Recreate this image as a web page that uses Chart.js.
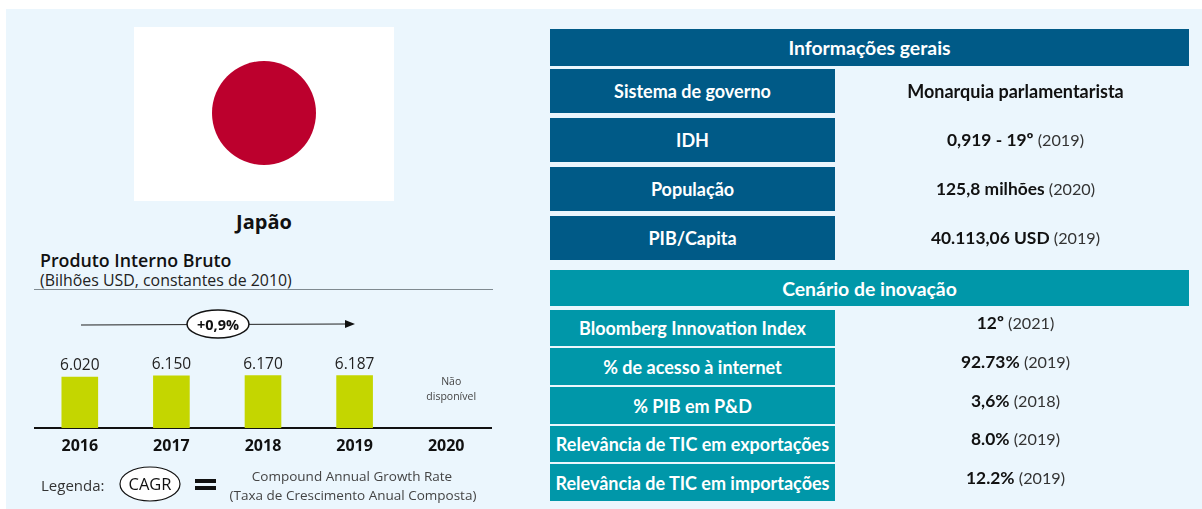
<!DOCTYPE html>
<html lang="pt">
<head>
<meta charset="utf-8">
<title>Japão</title>
<script src="https://cdn.jsdelivr.net/npm/chart.js@4/dist/chart.umd.min.js"></script>
<style>
html, body { margin: 0; padding: 0; background: #fff; }
body { width: 1202px; height: 509px; position: relative; overflow: hidden; font-family: "Open Sans", sans-serif; }
#panel { position: absolute; left: 6px; top: 9px; width: 1196px; height: 500px; background: #ebf6fd; }
#flag { position: absolute; left: 134px; top: 27px; width: 260px; height: 174px; background: #fff; }
#disc { position: absolute; left: 212px; top: 61px; width: 104px; height: 104px; border-radius: 50%; background: #bc002d; }
.t { position: absolute; white-space: nowrap; color: #111; line-height: 20px; }
.c { transform: translateX(-50%); }
#chartWrap { position: absolute; left: 34px; top: 300px; width: 458px; height: 160px; }
#deco { position: absolute; left: 0; top: 0; }
.cell { position: absolute; display: flex; align-items: center; justify-content: center; color: #fff; font-family: Lato, sans-serif; font-weight: 700; font-size: 18px; box-sizing: border-box; white-space: nowrap; }
.val { position: absolute; text-align: center; font-family: Lato, sans-serif; font-weight: 700; font-size: 17.4px; color: #111; white-space: nowrap; left: 835px; width: 361px; }
.val span { font-weight: 400; font-size: 16.2px; color: #333; }
</style>
</head>
<body>
<div id="panel"></div>
<div id="flag"></div>
<div id="disc"></div>
<div class="t c" style="left:264px;top:212px;font-size:20px;font-weight:700;">Japão</div>
<div class="t" style="left:40px;top:250px;font-size:17.8px;font-weight:600;">Produto Interno Bruto</div>
<div class="t" style="left:40px;top:270px;font-size:15.9px;color:#222;">(Bilhões USD, constantes de 2010)</div>
<div id="chartWrap"><canvas id="gdp" width="458" height="160"></canvas></div>
<svg id="deco" width="1202" height="509">
  <line x1="34" y1="289.5" x2="493" y2="289.5" stroke="#7f8a90" stroke-width="1"/>
  <line x1="81" y1="325" x2="346" y2="324" stroke="#222" stroke-width="1"/>
  <polygon points="345,320 355,324 345,328" fill="#111"/>
  <ellipse cx="218" cy="324" rx="31" ry="14" fill="#fff" stroke="#111" stroke-width="1.5"/>
  <text x="218" y="329.5" text-anchor="middle" font-family="Open Sans" font-size="14.5" font-weight="700" fill="#111">+0,9%</text>
  <ellipse cx="150" cy="484" rx="30" ry="17" fill="#fff" stroke="#111" stroke-width="1.2"/>
  <text x="150" y="490" text-anchor="middle" font-family="Open Sans" font-size="16.5" fill="#111">CAGR</text>
  <rect x="195" y="479" width="21" height="4" fill="#111"/>
  <rect x="195" y="486" width="21" height="4" fill="#111"/>
</svg>
<div class="t" style="left:41px;top:475px;font-size:15px;color:#333;">Legenda:</div>
<div class="t c" style="left:352px;top:466px;font-size:13.5px;color:#444;">Compound Annual Growth Rate</div>
<div class="t c" style="left:353px;top:485px;font-size:13.5px;color:#444;">(Taxa de Crescimento Anual Composta)</div>
<div id="tables"></div>

<script>
const years = ["2016", "2017", "2018", "2019", "2020"];
const gdpValues = [6020, 6150, 6170, 6187, null];
const gdpLabels = ["6.020", "6.150", "6.170", "6.187", ""];
const missingLabel = ["Não", "disponível"];

const generalTitle = "Informações gerais";
const generalNames = ["Sistema de governo", "IDH", "População", "PIB/Capita"];
const generalValues = ["Monarquia parlamentarista", "0,919 - 19º", "125,8 milhões", "40.113,06 USD"];
const generalYears = ["", "(2019)", "(2020)", "(2019)"];

const innovationTitle = "Cenário de inovação";
const innovationNames = ["Bloomberg Innovation Index", "% de acesso à internet", "% PIB em P&D", "Relevância de TIC em exportações", "Relevância de TIC em importações"];
const innovationValues = ["12º", "92.73%", "3,6%", "8.0%", "12.2%"];
const innovationYears = ["(2021)", "(2019)", "(2018)", "(2019)", "(2019)"];

const navy = "#005a87";
const teal = "#0097a9";

// row tops and bottoms
const generalRows = [[69, 113], [118, 162], [167, 211], [216, 260]];
const innovationRows = [[310, 346], [348, 385], [387, 424], [426, 462], [464, 501]];

const tables = document.getElementById("tables");

function addCell(x, y, w, h, text, color) {
    const el = document.createElement("div");
    el.className = "cell";
    el.style.cssText = `left:${x}px;top:${y}px;width:${w}px;height:${h}px;background:${color};`;
    el.textContent = text;
    tables.appendChild(el);
    return el;
}

function addBlock(title, top, bottom, names, values, yrs, rows, color, valueOffset) {
    addCell(550, top, 639, bottom - top, title, color).style.fontSize = "19.4px";
    names.forEach((name, i) => {
        const [y0, y1] = rows[i];
        addCell(550, y0, 285, y1 - y0, name, color);
        const v = document.createElement("div");
        v.className = "val";
        v.style.top = (y0 + (y1 - y0) / 2 - 11 + valueOffset) + "px";
        v.textContent = values[i] + " ";
        if (yrs[i]) {
            const s = document.createElement("span");
            s.textContent = yrs[i];
            v.appendChild(s);
        } else {
            v.style.fontSize = "18px";
        }
        tables.appendChild(v);
    });
}

addBlock(generalTitle, 29, 66, generalNames, generalValues, generalYears, generalRows, navy, 0);
addBlock(innovationTitle, 270, 306, innovationNames, innovationValues, innovationYears, innovationRows, teal, -5);

const barLabels = {
    id: "barLabels",
    afterDatasetsDraw(chart) {
        const { ctx, scales } = chart;
        const meta = chart.getDatasetMeta(0);
        ctx.save();
        ctx.textAlign = "center";
        ctx.textBaseline = "bottom";
        ctx.fillStyle = "#222";
        ctx.font = "15.5px 'Open Sans'";
        gdpValues.forEach((v, i) => {
            if (v === null) return;
            ctx.fillText(gdpLabels[i], meta.data[i].x, meta.data[i].y - 3);
        });
        const missing = gdpValues.indexOf(null);
        ctx.font = "10.5px 'Open Sans'";
        ctx.fillStyle = "#444";
        missingLabel.forEach((line, i) => {
            ctx.fillText(line, scales.x.getPixelForValue(missing) + 5, scales.y.getPixelForValue(4800) + i * 15);
        });
        ctx.restore();
    }
};

new Chart(document.getElementById("gdp"), {
    type: "bar",
    data: {
        labels: years,
        datasets: [{
            data: gdpValues,
            backgroundColor: "#c4d600",
            barPercentage: 0.4,
            categoryPercentage: 1
        }]
    },
    options: {
        responsive: false,
        animation: false,
        layout: { padding: 0 },
        plugins: { legend: { display: false }, tooltip: { enabled: false } },
        scales: {
            x: {
                afterFit(scale) { scale.height = 32; },
                grid: { display: false, drawTicks: false },
                border: { color: "#111", width: 2 },
                ticks: { color: "#111", padding: 9, maxRotation: 0, font: { family: "Open Sans", size: 16, weight: "700" } }
            },
            y: { display: false, min: 0, max: 15000 }
        }
    },
    plugins: [barLabels]
});
</script>
</body>
</html>
